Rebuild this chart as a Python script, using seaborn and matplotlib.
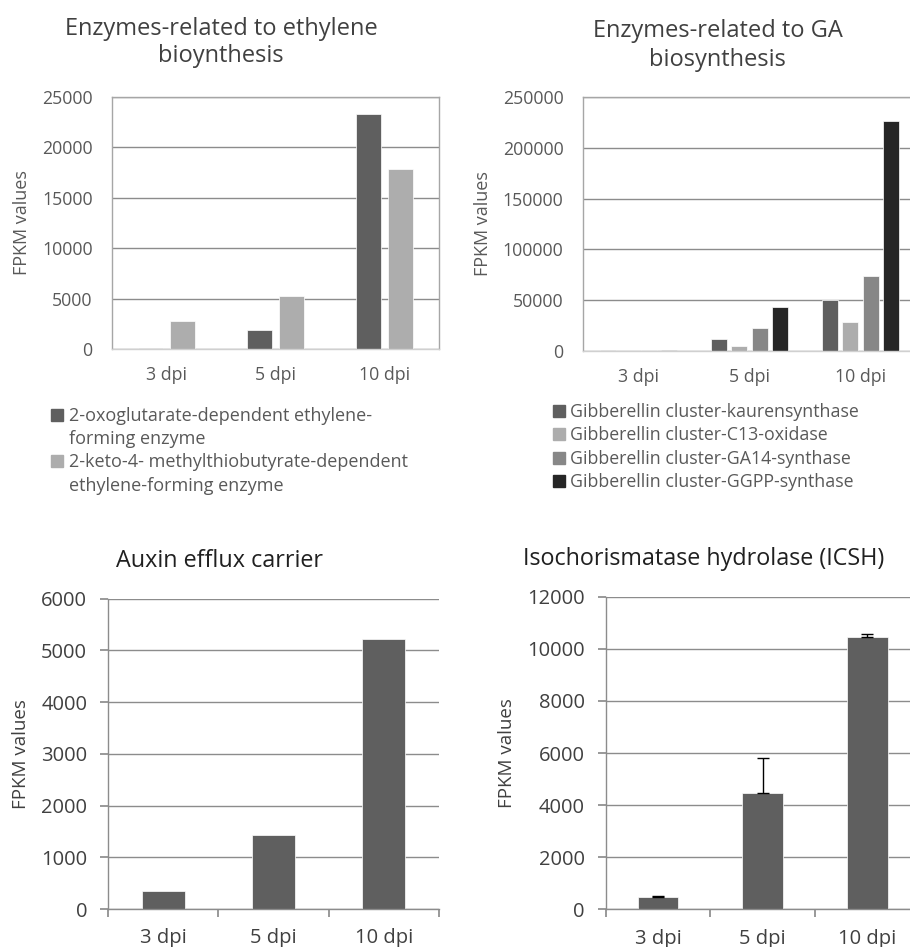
import numpy as np
import pandas as pd
import matplotlib
matplotlib.use("Agg")
import matplotlib.pyplot as plt
import seaborn as sns
from matplotlib.patches import Patch

# ---------------- data ----------------
days = ["3 dpi", "5 dpi", "10 dpi"]

eth_series = ["2-oxoglutarate-dependent ethylene-\nforming enzyme",
              "2-keto-4- methylthiobutyrate-dependent\nethylene-forming enzyme"]
eth_oxo = [130, 1880, 23300]
eth_keto = [2780, 5290, 17830]

ga_series = ["Gibberellin cluster-kaurensynthase",
             "Gibberellin cluster-C13-oxidase",
             "Gibberellin cluster-GA14-synthase",
             "Gibberellin cluster-GGPP-synthase"]
ga_kauren = [800, 12000, 50300]
ga_c13 = [300, 5300, 28900]
ga_ga14 = [700, 23000, 73900]
ga_ggpp = [1000, 43400, 226300]

auxin = [340, 1430, 5230]

icsh = [460, 4450, 10440]
icsh_err = [50, 1340, 115]

# ---------------- style ----------------
sns.set_theme(style="white")
plt.rcParams['font.family'] = ['Open Sans', 'DejaVu Sans']
TXT = "#595959"
TITLE = "#404040"
GRID = "#8c8c8c"
DARK = "#5f5f5f"
LIGHT = "#adadad"
MID = "#878787"
BLACK = "#262626"

fig = plt.figure(figsize=(9.10, 9.47), dpi=100)

def style_top(ax):
    ax.set_xlabel("")
    ax.set_ylabel("FPKM values", fontsize=13, color=TXT, labelpad=8)
    ax.tick_params(axis="both", length=0, labelsize=12.8, colors=TXT)
    ax.tick_params(axis="x", pad=12)
    ax.tick_params(axis="y", pad=14)
    ax.yaxis.grid(True, color=GRID, linewidth=1.0)
    ax.set_axisbelow(True)
    for s in ax.spines.values():
        s.set_color("#a6a6a6")
        s.set_linewidth(1.0)
    ax.spines["bottom"].set_color("#d0d0d0")
    ax.set_xlim(-0.5, 2.5)

def legend_rows(names, colors):
    """Split multi-line legend names into rows; only the first row of each gets a patch."""
    handles, labels = [], []
    for name, col in zip(names, colors):
        for i, line in enumerate(name.split("\n")):
            handles.append(Patch(color=col) if i == 0 else Patch(facecolor="none", edgecolor="none"))
            labels.append(line)
    return handles, labels

# ---- top-left: ethylene ----
ax1 = fig.add_axes([0.1231, 0.6315, 0.3593, 0.2661])
df1 = pd.DataFrame({
    "day": days * 2,
    "val": eth_oxo + eth_keto,
    "enz": [eth_series[0]] * 3 + [eth_series[1]] * 3,
})
sns.barplot(data=df1, x="day", y="val", hue="enz", order=days, hue_order=eth_series,
            palette=[DARK, LIGHT], width=0.58, gap=0.2, ax=ax1, legend=False,
            edgecolor="white", linewidth=0.5)
ax1.set_ylim(0, 25000)
ax1.set_yticks(np.arange(0, 25001, 5000))
style_top(ax1)
ax1.set_title("Enzymes-related to ethylene\nbioynthesis", fontsize=17, color=TITLE,
              pad=25, linespacing=1.2, x=0.333)
h1, l1 = legend_rows(eth_series, [DARK, LIGHT])
fig.legend(handles=h1, labels=l1,
           loc="upper left", bbox_to_anchor=(0.0387, 0.5875), frameon=False,
           fontsize=13, labelcolor=TXT, handlelength=0.65, handleheight=0.65,
           handletextpad=0.3, labelspacing=0.29)

# ---- top-right: GA ----
ax2 = fig.add_axes([0.6407, 0.6294, 0.366, 0.2682])
df2 = pd.DataFrame({
    "day": days * 4,
    "val": ga_kauren + ga_c13 + ga_ga14 + ga_ggpp,
    "enz": sum([[s] * 3 for s in ga_series], []),
})
sns.barplot(data=df2, x="day", y="val", hue="enz", order=days, hue_order=ga_series,
            palette=[DARK, LIGHT, MID, BLACK], width=0.74, gap=0.22, ax=ax2, legend=False,
            edgecolor="white", linewidth=0.5)
ax2.set_ylim(0, 250000)
ax2.set_yticks(np.arange(0, 250001, 50000))
style_top(ax2)
ax2.set_title("Enzymes-related to GA\nbiosynthesis", fontsize=17, color=TITLE,
              pad=22, linespacing=1.3, x=0.405)
h2, l2 = legend_rows(ga_series, [DARK, LIGHT, MID, BLACK])
fig.legend(handles=h2, labels=l2,
           loc="upper left", bbox_to_anchor=(0.5903, 0.5915), frameon=False,
           fontsize=12.8, labelcolor=TXT, handlelength=0.65, handleheight=0.65,
           handletextpad=0.3, labelspacing=0.31)

# ---- bottom styling ----
def style_bottom(ax):
    ax.set_xlabel("")
    ax.set_ylabel("FPKM values", fontsize=13.5, color="#404040", labelpad=8)
    ax.yaxis.grid(True, color=GRID, linewidth=1.0)
    ax.set_axisbelow(True)
    ax.spines["top"].set_visible(False)
    ax.spines["right"].set_visible(False)
    for s in ["left", "bottom"]:
        ax.spines[s].set_color("#8c8c8c")
        ax.spines[s].set_linewidth(1.0)
    ax.set_xlim(-0.5, 2.5)
    ax.set_xticks(np.arange(-0.5, 3.0, 1.0), minor=False)
    ax.set_xticklabels([])
    ax.set_xticks(range(3), minor=True)
    ax.set_xticklabels(days, minor=True)
    ax.tick_params(axis="x", which="major", direction="out", length=6, color="#8c8c8c",
                   bottom=True)
    ax.tick_params(axis="x", which="minor", length=0, pad=14, labelsize=14.5, labelcolor="#404040")
    ax.tick_params(axis="y", direction="out", length=6, color="#8c8c8c", left=True,
                   labelsize=14.5, labelcolor="#404040", pad=9)

# ---- bottom-left: auxin ----
ax3 = fig.add_axes([0.1187, 0.0401, 0.3637, 0.3277])
df3 = pd.DataFrame({"day": days, "val": auxin})
sns.barplot(data=df3, x="day", y="val", order=days, color=DARK, saturation=1,
            width=0.39, ax=ax3, edgecolor="white", linewidth=0.5)
ax3.set_ylim(0, 6000)
ax3.set_yticks(np.arange(0, 6001, 1000))
style_bottom(ax3)
ax3.set_title("Auxin efflux carrier", fontsize=16.8, color="#202020", pad=23, x=0.338)

# ---- bottom-right: ICSH ----
ax4 = fig.add_axes([0.6656, 0.0398, 0.345, 0.3301])
df4 = pd.DataFrame({"day": days, "val": icsh})
sns.barplot(data=df4, x="day", y="val", order=days, color=DARK, saturation=1,
            width=0.39, ax=ax4, edgecolor="white", linewidth=0.5)
ax4.errorbar(np.arange(len(days)), icsh, yerr=[np.zeros(len(days)), icsh_err],
             fmt="none", ecolor="black", elinewidth=1.0, capsize=4, capthick=1.0)
ax4.set_ylim(0, 12000)
ax4.set_yticks(np.arange(0, 12001, 2000))
style_bottom(ax4)
ax4.set_title("Isochorismatase hydrolase (ICSH)", fontsize=16.8, color="#202020", pad=23, x=0.313)

for ax in (ax1, ax2):
    ax.set_xticks(range(3))
    ax.set_xticklabels(days)

fig.savefig("out.png", dpi=100)
